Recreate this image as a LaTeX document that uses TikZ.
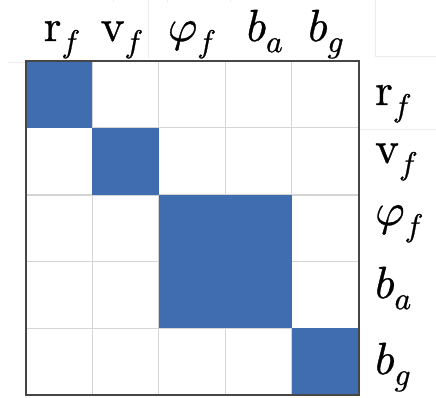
\documentclass[tikz,border=0pt]{standalone}
\usepackage{unicode-math}
\setmathfont{Latin Modern Math}[FakeBold=0.8]
\definecolor{cellblue}{RGB}{64,108,176}
\definecolor{gridgray}{RGB}{212,212,212}
\definecolor{framegray}{RGB}{70,70,70}
\definecolor{faint}{RGB}{236,236,236}
\tikzset{
  lab/.style={inner sep=0pt, font=\fontsize{45}{54}\selectfont},
  toplab/.style={lab, anchor=base},
  sidelab/.style={lab, anchor=base west},
  cell/.style={fill=cellblue, draw=none},
}
\begin{document}
\begin{tikzpicture}[x=1pt,y=-1pt]
\useasboundingbox (0,0) rectangle (436,398);
\fill[white] (0,0) rectangle (436,398);
% faint screenshot artefacts
\draw[faint, line width=0.8pt] (113,0) -- (113,2) (230,0) -- (230,2) (148,0) -- (148,58) (167,0) -- (167,2)
  (8,62) -- (27,62) (375,0) -- (375,56) (375,56) -- (436,56) (360,129) -- (436,129);
% grid
\foreach \x in {92.4,158.8,225.2,291.6} \draw[gridgray, line width=1pt] (\x,61) -- (\x,395);
\foreach \y in {128,195,261.5,328} \draw[gridgray, line width=1pt] (26,\y) -- (359,\y);
% blue cells
\fill[cell] (26,61) rectangle (92.4,128);
\fill[cell] (92.4,128) rectangle (158.8,195);
\fill[cell] (158.8,195) rectangle (291.6,328);
\fill[cell] (291.6,328) rectangle (359,395);
% frame
\draw[framegray, line width=1.3pt] (26,61) rectangle (359,395);
% top labels
\node[toplab] (tr) at (62,41) {$\symup{r}_f$};
\node[toplab] (tv) at (122,41) {$\symup{v}_f$};
\node[toplab] (tp) at (192,41) {$\varphi_f$};
\node[toplab] (tba) at (265,41) {$b_a$};
\node[toplab] (tbg) at (326,41) {$b_g$};
% side labels
\node[sidelab] (sr) at (375,105) {$\symup{r}_f$};
\node[sidelab] (sv) at (375,163) {$\symup{v}_f$};
\node[sidelab] (sp) at (375,225) {$\varphi_f$};
\node[sidelab] (sba) at (375,298) {$b_a$};
\node[sidelab] (sbg) at (375,374) {$b_g$};
\end{tikzpicture}
\end{document}
